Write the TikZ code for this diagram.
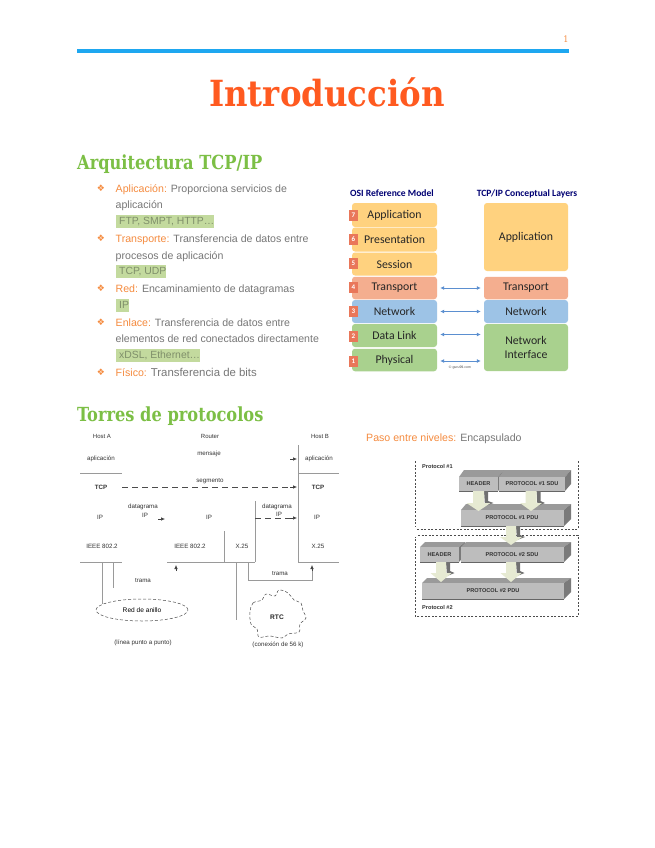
\documentclass[tikz,border=0pt]{standalone}
\usepackage{fontspec}
\setmainfont{Liberation Sans}
\newfontfamily\slabfont{DejaVu Serif Condensed}[BoldFont={DejaVu Serif Condensed Bold}]
\newfontfamily\headfont{DejaVu Serif Condensed}[BoldFont={DejaVu Serif Condensed Bold},BoldFeatures={FakeStretch=0.93}]
\newfontfamily\caliFont{Carlito}
\newfontfamily\symfont{DejaVu Sans}
\usetikzlibrary{arrows.meta,shapes.geometric}
\definecolor{ruleblue}{HTML}{1EA7F0}
\definecolor{titleor}{HTML}{FF5A20}
\definecolor{headgr}{HTML}{7CBF45}
\definecolor{lblor}{HTML}{F58B3F}
\definecolor{bodygr}{HTML}{777777}
\definecolor{hlgr}{HTML}{C3DA9E}
\definecolor{hltx}{HTML}{7F8F6A}
\definecolor{laypeach}{HTML}{FFD27F}
\definecolor{layred}{HTML}{F4AE8F}
\definecolor{layblue}{HTML}{9DC3E6}
\definecolor{laygreen}{HTML}{A9D18E}
\definecolor{numred}{HTML}{E9775A}
\definecolor{arrowbl}{HTML}{5B8FD0}
\definecolor{blockf}{HTML}{BDBDBD}
\definecolor{blockt}{HTML}{9A9A9A}
\definecolor{blocks}{HTML}{7A7A7A}
\definecolor{darrowf}{HTML}{E6EAD2}
\definecolor{darrows}{HTML}{707070}
\definecolor{lineg}{HTML}{9A9A9A}
\tikzset{
 body/.style={anchor=base west,inner sep=0pt,text=bodygr,font=\fontsize{10.6}{12}\selectfont},
 hl/.style={anchor=west,fill=hlgr,text=hltx,inner sep=0pt,minimum height=13pt,align=left,font=\fontsize{10.4}{12}\selectfont},
 bul/.style={inner sep=0pt,text=lblor,font=\fontsize{9}{10}\symfont},
 layer/.style={rounded corners=3pt,inner sep=0pt,font=\fontsize{11.8}{14}\caliFont,text=black!85,align=center},
 numbox/.style={fill=numred,text=white,inner sep=0pt,minimum width=9pt,minimum height=11pt,font=\fontsize{7}{8}\caliFont\bfseries},
 layhead/.style={inner sep=0pt,text=blue!45!black,font=\fontsize{9.6}{11}\caliFont\bfseries},
 biarrow/.style={arrowbl,line width=.8pt,{Latex[length=4pt,width=4pt]}-{Latex[length=4pt,width=4pt]}},
 stack/.style={inner sep=0pt,font=\fontsize{6.2}{8}\selectfont,text=black!80},
 stackb/.style={stack,font=\fontsize{6.2}{8}\selectfont\bfseries},
 net/.style={lineg,line width=.8pt},
 dashnet/.style={black!70,line width=.6pt,dash pattern=on 6pt off 4pt},
 tiparrow/.style={-{Latex[length=4pt,width=3.5pt]},black!75,line width=.6pt},
 blabel/.style={inner sep=0pt,font=\fontsize{5.6}{7}\selectfont\bfseries,text=black!80},
 guide/.style={black!70,line width=.6pt,dash pattern=on 2pt off 1.6pt},
}
% 3D block: x1,y1(front top),x2,y2(front bottom),top y,right x
\newcommand{\blockthree}[6]{%
 \fill[blockt] (#1,#2)--(#1+5,#5)--(#6,#5)--(#3,#2)--cycle;
 \fill[blocks] (#3,#2)--(#6,#5)--(#6,#4-7)--(#3,#4)--cycle;
 \fill[blockf] (#1,#2) rectangle (#3,#4);
 \draw[black!60,line width=.9pt] (#1,#4)--(#3,#4);
}
% block arrow: x centre, half shaft, half head, top y, shoulder y, tip y
\newcommand{\downarrowblock}[6]{%
 \fill[darrows] (#1+#2,#4)--(#1+#2+4,#4)--(#1+#2+4,#5-2)--(#1+#3+3,#5)--(#1+#2+1,#5+3)--cycle;
 \fill[darrowf] (#1-#2,#4)--(#1+#2,#4)--(#1+#2,#5)--(#1+#3,#5)--(#1,#6)--(#1-#3,#5)--(#1-#2,#5)--cycle;
}
\begin{document}
\begin{tikzpicture}[x=1pt,y=-1pt]
\useasboundingbox (0,0) rectangle (655,848);
\fill[white] (0,0) rectangle (655,848);
% header
\fill[ruleblue] (77,49.5) rectangle (569,53.5);
\node[inner sep=0pt,text=lblor,font=\fontsize{9}{10}\slabfont] (pagenum) at (566,39) {1};
\node[inner sep=0pt,text=titleor,font=\fontsize{36}{40}\slabfont\bfseries,anchor=base] (title) at (327,107) {Introducción};
\node[inner sep=0pt,text=headgr,font=\fontsize{19.4}{24}\headfont\bfseries,anchor=base west] (h1) at (77,169) {Arquitectura TCP/IP};
\node[inner sep=0pt,text=headgr,font=\fontsize{19.4}{24}\headfont\bfseries,anchor=base west] (h2) at (77,421) {Torres de protocolos};
% list
\node[bul] (b1) at (101,188) {❖};
\node[body] (t1) at (115.5,192) {\textcolor{lblor}{Aplicación:} Proporciona servicios de};
\node[body] (t1b) at (115.5,208) {aplicación};
\node[hl,minimum width=95pt] (h1a) at (115.5,221.5) {\,\,FTP, SMPT, HTTP…};
\node[bul] (b2) at (101,238) {❖};
\node[body] (t2) at (115.5,242) {\textcolor{lblor}{Transporte:} Transferencia de datos entre};
\node[body] (t2b) at (115.5,259) {procesos de aplicación};
\node[hl,minimum width=49pt] (h2a) at (115.5,271.5) {\,\,TCP, UDP};
\node[bul] (b3) at (101,288) {❖};
\node[body] (t3) at (115.5,292) {\textcolor{lblor}{Red:} Encaminamiento de datagramas};
\node[hl,minimum width=13pt] (h3a) at (115.5,305) {\,\,IP};
\node[bul] (b4) at (101,322) {❖};
\node[body] (t4) at (115.5,326) {\textcolor{lblor}{Enlace:} Transferencia de datos entre};
\node[body] (t4b) at (115.5,342) {elementos de red conectados directamente};
\node[hl,minimum width=79pt] (h4a) at (115.5,355) {\,\,xDSL, Ethernet…};
\node[bul] (b5) at (101,372) {❖};
\node[body] (t5) at (115.5,376) {\textcolor{lblor}{Físico:} {\fontsize{11.4}{12}\selectfont Transferencia de bits}};
% OSI
\node[layhead] (osih) at (392,193.5) {OSI Reference Model};
\node[layhead] (tcph) at (527,193.5) {TCP/IP Conceptual Layers};
\newcommand{\lay}[7]{\node[layer,fill=#5,minimum width=#3-#2,minimum height=#4] (#1) at (#2/2+#3/2,#6) {#7};}
\lay{oapp}{352}{437}{24}{laypeach}{215}{Application}
\lay{opre}{352}{437}{24}{laypeach}{239.5}{Presentation}
\lay{oses}{352}{437}{23}{laypeach}{264}{Session}
\lay{otra}{352}{437}{22.5}{layred}{288}{Transport}
\lay{onet}{352}{437}{23}{layblue}{311.5}{Network}
\lay{odat}{352}{437}{23}{laygreen}{335.5}{Data Link}
\lay{ophy}{352}{437}{22.5}{laygreen}{360}{Physical}
\lay{tapp}{484}{568}{68}{laypeach}{237}{Application}
\lay{ttra}{484}{568}{22.5}{layred}{288}{Transport}
\lay{tnet}{484}{568}{23}{layblue}{311.5}{Network}
\lay{tnif}{484}{568}{47}{laygreen}{347.5}{Network\\Interface}
\node[numbox] (n7) at (353.5,215) {7};
\node[numbox] (n6) at (353.5,239) {6};
\node[numbox] (n5) at (353.5,263) {5};
\node[numbox] (n4) at (353.5,287) {4};
\node[numbox] (n3) at (353.5,311) {3};
\node[numbox] (n2) at (353.5,336) {2};
\node[numbox] (n1) at (353.5,361) {1};
\draw[biarrow] ([xshift=3pt]otra.east) -- ([xshift=-3pt]ttra.west);
\draw[biarrow] ([xshift=3pt]onet.east) -- ([xshift=-3pt]tnet.west);
\draw[biarrow] ([xshift=3pt,yshift=1pt]odat.east) -- ([xshift=-3pt,yshift=1pt]odat.east -| tnif.west);
\draw[biarrow] ([xshift=3pt,yshift=-1pt]ophy.east) -- ([xshift=-3pt,yshift=-1pt]ophy.east -| tnif.west);
\node[inner sep=0pt,font=\fontsize{3.5}{4}\selectfont,text=black!70] (credit) at (460,368) {© guru99.com};
% Protocol stacks
\foreach \nm/\px/\py/\tx in {ha/102/436/Host A,ro/210/436/Router,hb/320/436/Host B}
  \node[stackb,font=\fontsize{6}{8}\selectfont] (\nm) at (\px,\py) {\tx};
\node[stack] (apa) at (101,459) {aplicación};
\node[stack] (men) at (209,454) {mensaje};
\node[stack] (apb) at (319,459) {aplicación};
\node[stack] (sg) at (210,481) {segmento};
\node[stackb] (ta) at (101,487) {TCP};
\node[stackb] (tb) at (318,487) {TCP};
\node[stack] (ia) at (100,517) {IP};
\node[stack] (ir) at (209,517) {IP};
\node[stack] (ib) at (317,517) {IP};
\node[stack] (dg1) at (143,507) {datagrama};
\node[stack] (di1) at (145,515) {IP};
\node[stack] (dg2) at (277,507) {datagrama};
\node[stack] (di2) at (279,514) {IP};
\node[stack] (ea) at (102,546) {IEEE 802.2};
\node[stack] (er) at (190,546) {IEEE 802.2};
\node[stack] (xr) at (242,546) {X.25};
\node[stack] (xb) at (318,546) {X.25};
\node[stack] (tr1) at (143,581) {trama};
\node[stack] (tr2) at (280,574) {trama};
\node[stack] (et) at (143,643) {(línea punto a punto)};
\node[stack] (co) at (278,645) {(conexión de 56 k)};
\node[draw=black!70,densely dashed,line width=.5pt,ellipse,minimum width=92pt,minimum height=22pt,inner sep=0pt,font=\fontsize{6.6}{8}\selectfont] (ring) at (142,610) {Red de anillo};
\node[inner sep=0pt,font=\fontsize{6.6}{8}\selectfont\bfseries,text=black!85] (rtc) at (277,617) {RTC};
\coordinate (vB1) at (298,445); \coordinate (vB2) at (298,562);
\coordinate (vR1) at (255,501); \coordinate (vR2) at (255,562);
\coordinate (vM1) at (224,531); \coordinate (vM2) at (224,562);
\draw[net] (vB1)--(vB2); \draw[net] (vR1)--(vR2); \draw[net] (vM1)--(vM2);
\draw[net] (80,473.5)--(122,473.5); \draw[net] (298,473.5)--(339,473.5);
\draw[net] (80,562)--(122,562); \draw[net] (167,562)--(255,562); \draw[net] (298,562)--(339,562);
\draw[net] (102,562)--(102,604);
\draw[net] (113,562)--(113,588);
\draw[net] (236,562)--(236,620);
\draw[net] (248,562)--(248,580)--(312,580)--(312,569);
\draw[tiparrow] (312,571)--(312,565);
\draw[tiparrow] (176,571)--(176,565);
\draw[dashnet] (122,487) -- (294,487);
\draw[tiparrow] (290,487)--(297,487);
\draw[dashnet] (255,518)--(294,518);
\draw[tiparrow] (290,518)--(297,518);
\draw[tiparrow] (290,459)--(297,459);
\draw[tiparrow] (158,519)--(165,519);
\draw[black!70,densely dashed,line width=.5pt] plot[smooth cycle,tension=.6] coordinates {(250,612)(253,603)(262,600)(266,594)(275,596)(279,590)(288,593)(294,600)(301,603)(303,611)(306,618)(300,624)(299,632)(288,634)(282,638)(270,636)(259,637)(257,629)(251,624)};
% Encapsulation
\node[anchor=base west,inner sep=0pt,text=bodygr,font=\fontsize{10.6}{12}\selectfont] (paso) at (366,441) {\textcolor{lblor}{Paso entre niveles:} Encapsulado};
\draw[guide] (415,461)--(415,526) (417,529)--(578,529)--(578,461);
\draw[guide] (418,535)--(578,535)--(578,616)--(415,616)--(415,537);
\blockthree{459}{477}{498}{491}{470}{504}
\blockthree{499}{477}{565}{491}{470}{571}
\blockthree{461}{510}{564}{526}{504}{571}
\blockthree{420}{547}{459}{562}{542}{465}
\blockthree{461}{547}{564}{562}{542}{571}
\blockthree{422}{583}{564}{599}{578}{571}
\downarrowblock{478.5}{5.5}{12}{491}{503}{511}
\downarrowblock{531}{5.5}{11}{491}{503}{511}
\downarrowblock{511}{5}{11}{526}{537}{545}
\downarrowblock{441}{5}{10.5}{562}{573}{582}
\downarrowblock{511}{5}{10.5}{562}{573}{582}
\node[blabel] (bh1) at (478.5,483.5) {HEADER};
\node[blabel] (bs1) at (532,483.5) {PROTOCOL \#1 SDU};
\node[blabel] (bp1) at (512,518) {PROTOCOL \#1 PDU};
\node[blabel] (bh2) at (439.5,554.5) {HEADER};
\node[blabel] (bs2) at (512,554.5) {PROTOCOL \#2 SDU};
\node[blabel] (bp2) at (493,591) {PROTOCOL \#2 PDU};
\node[blabel,anchor=west] (pr1) at (422,466) {Protocol \#1};
\node[blabel,anchor=west] (pr2) at (422,607) {Protocol \#2};
\end{tikzpicture}
\end{document}
